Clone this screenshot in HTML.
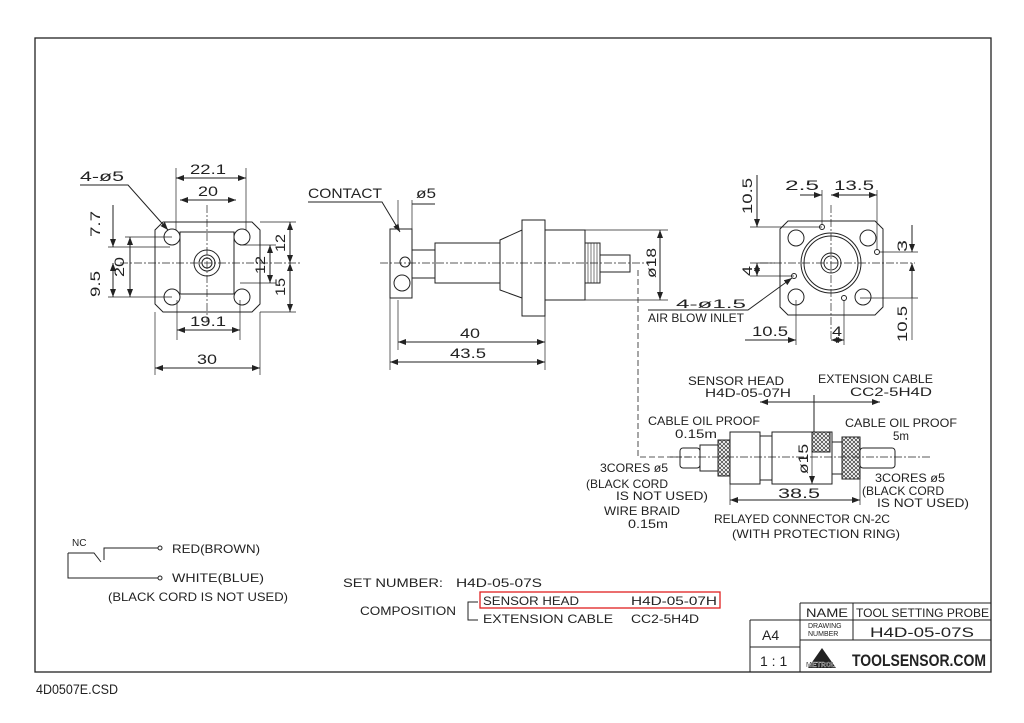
<!DOCTYPE html>
<html><head><meta charset="utf-8"><style>
html,body{margin:0;padding:0;background:#fff}
svg{display:block}
text{font-family:"Liberation Sans",sans-serif;fill:#222}
</style></head><body>
<svg width="1024" height="723" viewBox="0 0 1024 723" xmlns="http://www.w3.org/2000/svg">
<defs>
<marker id="a" markerWidth="8" markerHeight="6" refX="8" refY="3" orient="auto-start-reverse" markerUnits="userSpaceOnUse"><path d="M0,0 L8,3 L0,6z" fill="#222"/></marker>
<pattern id="kn" width="4" height="4" patternUnits="userSpaceOnUse"><path d="M0,0L4,4M4,0L0,4" stroke="#333" stroke-width="0.7"/></pattern>
</defs>
<g fill="none" stroke="#222" stroke-width="1">
<rect x="35" y="38" width="956" height="634" stroke-width="1.3"/>

<!-- LEFT FRONT VIEW -->
<path d="M163,222 L252,222 L260,230 L260,304 L252,312 L163,312 L155,304 L155,230 Z"/>
<circle cx="172" cy="237" r="8"/><circle cx="242" cy="237" r="8"/>
<circle cx="172" cy="297" r="8"/><circle cx="242" cy="297" r="8"/>
<rect x="180" y="232" width="54" height="62"/>
<circle cx="207" cy="263" r="13"/><circle cx="207" cy="263" r="8"/><circle cx="207" cy="263" r="5"/>
<g stroke-dasharray="8,2,2,2" stroke-width="0.7">
<line x1="120" y1="263" x2="300" y2="263"/><line x1="207" y1="205" x2="207" y2="322"/>
</g>
<line x1="176" y1="178" x2="246" y2="178" marker-start="url(#a)" marker-end="url(#a)"/>
<line x1="176" y1="168" x2="176" y2="230" stroke-width="0.7"/><line x1="246" y1="168" x2="246" y2="230" stroke-width="0.7"/>
<line x1="180" y1="200" x2="236" y2="200" marker-start="url(#a)" marker-end="url(#a)"/>
<line x1="177" y1="330" x2="240" y2="330" marker-start="url(#a)" marker-end="url(#a)"/>
<line x1="177" y1="300" x2="177" y2="340" stroke-width="0.7"/><line x1="240" y1="300" x2="240" y2="340" stroke-width="0.7"/>
<line x1="155" y1="368" x2="260" y2="368" marker-start="url(#a)" marker-end="url(#a)"/>
<line x1="155" y1="312" x2="155" y2="375" stroke-width="0.7"/><line x1="260" y1="312" x2="260" y2="375" stroke-width="0.7"/>
<line x1="130" y1="237" x2="130" y2="297" marker-start="url(#a)" marker-end="url(#a)"/>
<line x1="125" y1="237" x2="172" y2="237" stroke-width="0.7"/><line x1="108" y1="297" x2="172" y2="297" stroke-width="0.7"/>
<line x1="108" y1="247" x2="170" y2="247" stroke-width="0.7"/>
<line x1="113" y1="205" x2="113" y2="247" marker-end="url(#a)"/>
<line x1="113" y1="263" x2="113" y2="297" marker-start="url(#a)" marker-end="url(#a)"/>
<line x1="290" y1="222" x2="290" y2="263" marker-start="url(#a)" marker-end="url(#a)"/>
<line x1="290" y1="263" x2="290" y2="312" marker-start="url(#a)" marker-end="url(#a)"/>
<line x1="260" y1="222" x2="296" y2="222" stroke-width="0.7"/><line x1="260" y1="312" x2="296" y2="312" stroke-width="0.7"/>
<line x1="270" y1="245" x2="270" y2="283" marker-start="url(#a)" marker-end="url(#a)"/>
<line x1="240" y1="245" x2="276" y2="245" stroke-width="0.7"/><line x1="240" y1="283" x2="276" y2="283" stroke-width="0.7"/>
<path d="M80,185 L128,185 L168,230" marker-end="url(#a)"/>

<!-- SIDE VIEW -->
<rect x="390" y="229" width="22" height="69"/>
<circle cx="405" cy="262" r="5"/><circle cx="402" cy="283" r="8"/>
<rect x="412" y="250" width="23" height="28"/>
<path d="M435,243 L500,243 L500,283 L435,283 Z"/>
<path d="M500,240 L522,230 L522,298 L500,290 Z"/>
<rect x="522" y="220" width="23" height="96"/>
<rect x="545" y="230" width="40" height="70"/>
<rect x="585" y="243" width="15" height="40"/>
<g stroke-width="0.6"><line x1="588" y1="243" x2="588" y2="283"/><line x1="591" y1="243" x2="591" y2="283"/><line x1="594" y1="243" x2="594" y2="283"/><line x1="597" y1="243" x2="597" y2="283"/></g>
<rect x="600" y="255" width="30" height="17"/>
<line x1="380" y1="263" x2="650" y2="263" stroke-dasharray="8,2,2,2" stroke-width="0.7"/>
<path d="M308,202 L382,202 L400,232" marker-end="url(#a)"/>
<line x1="398" y1="200" x2="398" y2="230" stroke-width="0.7"/><line x1="412" y1="200" x2="412" y2="230" stroke-width="0.7"/>
<line x1="412" y1="204" x2="435" y2="204"/>
<line x1="398" y1="342" x2="545" y2="342" marker-start="url(#a)" marker-end="url(#a)"/>
<line x1="390" y1="362" x2="545" y2="362" marker-start="url(#a)" marker-end="url(#a)"/>
<line x1="390" y1="298" x2="390" y2="370" stroke-width="0.7"/><line x1="398" y1="300" x2="398" y2="350" stroke-width="0.7"/>
<line x1="545" y1="316" x2="545" y2="370" stroke-width="0.7"/>
<line x1="660" y1="230" x2="660" y2="300" marker-start="url(#a)" marker-end="url(#a)"/>
<line x1="585" y1="230" x2="668" y2="230" stroke-width="0.7"/><line x1="585" y1="300" x2="668" y2="300" stroke-width="0.7"/>
<path d="M638,270 L638,457 L690,457" stroke-dasharray="6,3" stroke-width="0.8"/>

<!-- RIGHT VIEW -->
<path d="M788,221 L875,221 L883,229 L883,307 L875,315 L788,315 L780,307 L780,229 Z"/>
<circle cx="796" cy="238" r="8"/><circle cx="868" cy="238" r="8"/>
<circle cx="796" cy="297" r="8"/><circle cx="863" cy="297" r="8"/>
<circle cx="831" cy="263" r="30"/><circle cx="831" cy="263" r="27"/>
<circle cx="831" cy="263" r="10"/><circle cx="831" cy="263" r="7"/>
<circle cx="822" cy="227" r="2.5"/><circle cx="877" cy="252" r="2.5"/><circle cx="794" cy="276" r="2.5"/><circle cx="844" cy="298" r="2.5"/>
<g stroke-dasharray="8,2,2,2" stroke-width="0.7"><line x1="760" y1="263" x2="915" y2="263"/><line x1="831" y1="205" x2="831" y2="340"/></g>
<line x1="757" y1="175" x2="757" y2="227" marker-end="url(#a)"/>
<line x1="757" y1="263" x2="757" y2="276" marker-start="url(#a)" marker-end="url(#a)"/>
<line x1="750" y1="227" x2="822" y2="227" stroke-width="0.7"/><line x1="750" y1="276" x2="794" y2="276" stroke-width="0.7"/>
<line x1="750" y1="263" x2="775" y2="263" stroke-width="0.7"/>
<line x1="800" y1="195" x2="822" y2="195" marker-end="url(#a)"/><line x1="831" y1="195" x2="877" y2="195" marker-start="url(#a)" marker-end="url(#a)"/>
<line x1="822" y1="190" x2="822" y2="225" stroke-width="0.7"/><line x1="877" y1="190" x2="877" y2="250" stroke-width="0.7"/>
<line x1="912" y1="225" x2="912" y2="252" marker-end="url(#a)"/>
<line x1="880" y1="252" x2="918" y2="252" stroke-width="0.7"/>
<line x1="912" y1="263" x2="912" y2="298" marker-start="url(#a)"/>
<line x1="912" y1="298" x2="912" y2="340" stroke-width="0.7"/>
<line x1="860" y1="298" x2="918" y2="298" stroke-width="0.7"/>
<line x1="745" y1="340" x2="796" y2="340" marker-end="url(#a)"/><line x1="831" y1="340" x2="844" y2="340" marker-start="url(#a)" marker-end="url(#a)"/>
<line x1="796" y1="300" x2="796" y2="345" stroke-width="0.7"/><line x1="844" y1="300" x2="844" y2="345" stroke-width="0.7"/>
<path d="M648,310 L748,310 L792,278" marker-end="url(#a)"/>

<!-- CONNECTOR -->
<line x1="760" y1="402" x2="880" y2="402" marker-start="url(#a)" marker-end="url(#a)"/>
<line x1="814" y1="395" x2="814" y2="432"/>
<rect x="680" y="448" width="20" height="20" rx="3"/>
<rect x="700" y="445" width="18" height="26"/>
<rect x="718" y="440" width="12" height="36" fill="url(#kn)"/>
<rect x="730" y="432" width="30" height="52"/>
<rect x="760" y="436" width="12" height="44"/>
<rect x="772" y="432" width="60" height="52"/>
<rect x="812" y="432" width="18" height="20" fill="url(#kn)"/>
<rect x="832" y="442" width="10" height="32"/>
<rect x="842" y="437" width="18" height="42" fill="url(#kn)"/>
<rect x="860" y="448" width="35" height="20" rx="3"/>
<line x1="670" y1="457" x2="930" y2="457" stroke-dasharray="8,2,2,2" stroke-width="0.7"/>
<line x1="812" y1="432" x2="812" y2="484" stroke-width="0.7" marker-end="url(#a)"/>
<line x1="730" y1="500" x2="860" y2="500" marker-start="url(#a)" marker-end="url(#a)"/>
<line x1="730" y1="484" x2="730" y2="505" stroke-width="0.7"/><line x1="860" y1="479" x2="860" y2="505" stroke-width="0.7"/>

<!-- wiring -->
<path d="M68,553 L68,578 L158,578"/>
<path d="M68,553 L94,553 L101,562"/>
<path d="M104,560 L104,548 L158,548"/>
<circle cx="160" cy="548" r="2"/><circle cx="160" cy="578" r="2"/>
<path d="M478,602 L468,602 L468,620 L478,620"/>
<rect x="480" y="592" width="240" height="16" stroke="#e02020" stroke-width="1.3"/>

<!-- title block -->
<path d="M800,603 L991,603 M800,603 L800,672 M750,620 L991,620 M750,620 L750,672 M750,647 L800,647 M800,640 L991,640 M853,603 L853,640"/>
</g>

<g font-size="14">
<text x="80" y="181" textLength="44" lengthAdjust="spacingAndGlyphs">4-ø5</text>
<text x="190" y="174" textLength="36" lengthAdjust="spacingAndGlyphs">22.1</text>
<text x="198" y="196" textLength="20" lengthAdjust="spacingAndGlyphs">20</text>
<text x="190" y="326" textLength="36" lengthAdjust="spacingAndGlyphs">19.1</text>
<text x="197" y="364" textLength="20" lengthAdjust="spacingAndGlyphs">30</text>
<text transform="translate(100,237) rotate(-90)" textLength="26" lengthAdjust="spacingAndGlyphs">7.7</text>
<text transform="translate(100,297) rotate(-90)" textLength="26" lengthAdjust="spacingAndGlyphs">9.5</text>
<text transform="translate(124,277) rotate(-90)" textLength="20" lengthAdjust="spacingAndGlyphs">20</text>
<text transform="translate(285,252) rotate(-90)" textLength="18" lengthAdjust="spacingAndGlyphs">12</text>
<text transform="translate(285,296) rotate(-90)" textLength="18" lengthAdjust="spacingAndGlyphs">15</text>
<text transform="translate(265,274) rotate(-90)" textLength="18" lengthAdjust="spacingAndGlyphs">12</text>
<text x="308" y="198" textLength="74" lengthAdjust="spacingAndGlyphs">CONTACT</text>
<text x="416" y="198" textLength="20" lengthAdjust="spacingAndGlyphs">ø5</text>
<text x="460" y="338" textLength="20" lengthAdjust="spacingAndGlyphs">40</text>
<text x="450" y="358" textLength="36" lengthAdjust="spacingAndGlyphs">43.5</text>
<text transform="translate(656,278) rotate(-90)" textLength="30" lengthAdjust="spacingAndGlyphs">ø18</text>
<text x="785" y="190" textLength="34" lengthAdjust="spacingAndGlyphs">2.5</text>
<text x="834" y="190" textLength="40" lengthAdjust="spacingAndGlyphs">13.5</text>
<text transform="translate(752,214) rotate(-90)" textLength="36" lengthAdjust="spacingAndGlyphs">10.5</text>
<text transform="translate(752,276) rotate(-90)" textLength="10" lengthAdjust="spacingAndGlyphs">4</text>
<text transform="translate(907,252) rotate(-90)" textLength="12" lengthAdjust="spacingAndGlyphs">3</text>
<text transform="translate(907,342) rotate(-90)" textLength="36" lengthAdjust="spacingAndGlyphs">10.5</text>
<text x="752" y="336" textLength="36" lengthAdjust="spacingAndGlyphs">10.5</text>
<text x="832" y="336" textLength="10" lengthAdjust="spacingAndGlyphs">4</text>
<text x="778" y="498" textLength="42" lengthAdjust="spacingAndGlyphs">38.5</text>
<text transform="translate(808,474) rotate(-90)" textLength="30" lengthAdjust="spacingAndGlyphs">ø15</text>
</g>
<g font-size="12">
<text x="676" y="308" textLength="70" lengthAdjust="spacingAndGlyphs">4-ø1.5</text>
<text x="648" y="322" textLength="96" lengthAdjust="spacingAndGlyphs">AIR BLOW INLET</text>
<text x="688" y="385" textLength="96" lengthAdjust="spacingAndGlyphs">SENSOR HEAD</text>
<text x="705" y="397" textLength="86" lengthAdjust="spacingAndGlyphs">H4D-05-07H</text>
<text x="818" y="383" textLength="115" lengthAdjust="spacingAndGlyphs">EXTENSION CABLE</text>
<text x="850" y="396" textLength="82" lengthAdjust="spacingAndGlyphs">CC2-5H4D</text>
<text x="648" y="425" textLength="112" lengthAdjust="spacingAndGlyphs">CABLE OIL PROOF</text>
<text x="675" y="438" textLength="42" lengthAdjust="spacingAndGlyphs">0.15m</text>
<text x="845" y="427" textLength="112" lengthAdjust="spacingAndGlyphs">CABLE OIL PROOF</text>
<text x="893" y="440" textLength="16" lengthAdjust="spacingAndGlyphs">5m</text>
<text x="600" y="472" textLength="68" lengthAdjust="spacingAndGlyphs">3CORES ø5</text>
<text x="586" y="488" textLength="82" lengthAdjust="spacingAndGlyphs">(BLACK CORD</text>
<text x="616" y="500" textLength="92" lengthAdjust="spacingAndGlyphs">IS NOT USED)</text>
<text x="604" y="515" textLength="76" lengthAdjust="spacingAndGlyphs">WIRE BRAID</text>
<text x="628" y="528" textLength="40" lengthAdjust="spacingAndGlyphs">0.15m</text>
<text x="875" y="482" textLength="70" lengthAdjust="spacingAndGlyphs">3CORES ø5</text>
<text x="862" y="495" textLength="82" lengthAdjust="spacingAndGlyphs">(BLACK CORD</text>
<text x="877" y="507" textLength="92" lengthAdjust="spacingAndGlyphs">IS NOT USED)</text>
<text x="714" y="523" textLength="176" lengthAdjust="spacingAndGlyphs">RELAYED CONNECTOR CN-2C</text>
<text x="732" y="538" textLength="168" lengthAdjust="spacingAndGlyphs">(WITH PROTECTION RING)</text>
<text x="172" y="553" textLength="88" lengthAdjust="spacingAndGlyphs">RED(BROWN)</text>
<text x="172" y="582" textLength="92" lengthAdjust="spacingAndGlyphs">WHITE(BLUE)</text>
<text x="108" y="601" textLength="180" lengthAdjust="spacingAndGlyphs">(BLACK CORD IS NOT USED)</text>
<text x="343" y="587" textLength="100" lengthAdjust="spacingAndGlyphs">SET NUMBER:</text>
<text x="456" y="587" textLength="86" lengthAdjust="spacingAndGlyphs">H4D-05-07S</text>
<text x="360" y="615" textLength="96" lengthAdjust="spacingAndGlyphs">COMPOSITION</text>
<text x="483" y="605" textLength="96" lengthAdjust="spacingAndGlyphs">SENSOR HEAD</text>
<text x="631" y="605" textLength="86" lengthAdjust="spacingAndGlyphs">H4D-05-07H</text>
<text x="483" y="623" textLength="130" lengthAdjust="spacingAndGlyphs">EXTENSION CABLE</text>
<text x="631" y="623" textLength="68" lengthAdjust="spacingAndGlyphs">CC2-5H4D</text>
<text x="806" y="617" textLength="42" lengthAdjust="spacingAndGlyphs">NAME</text>
<text x="856" y="617" textLength="133" lengthAdjust="spacingAndGlyphs">TOOL SETTING PROBE</text>
</g>
<text x="72" y="546" font-size="10">NC</text>
<text x="808" y="628" font-size="7">DRAWING</text><text x="808" y="636" font-size="7">NUMBER</text>
<text x="870" y="637" font-size="14" textLength="104" lengthAdjust="spacingAndGlyphs" fill="#555">H4D-05-07S</text>
<text x="762" y="640" font-size="14" fill="#555">A4</text>
<text x="760" y="666" font-size="14" fill="#555">1 : 1</text>
<path d="M808,668 L822,648 L836,668 Z" fill="#222"/>
<text x="806" y="667" font-size="7" font-weight="bold" fill="#222" stroke="#fff" stroke-width="0.3">METROL</text>
<text x="852" y="666" font-size="17" font-weight="bold" textLength="134" lengthAdjust="spacingAndGlyphs">TOOLSENSOR.COM</text>
<text x="36" y="694" font-size="14" fill="#666" textLength="82" lengthAdjust="spacingAndGlyphs">4D0507E.CSD</text>
</svg>
</body></html>
